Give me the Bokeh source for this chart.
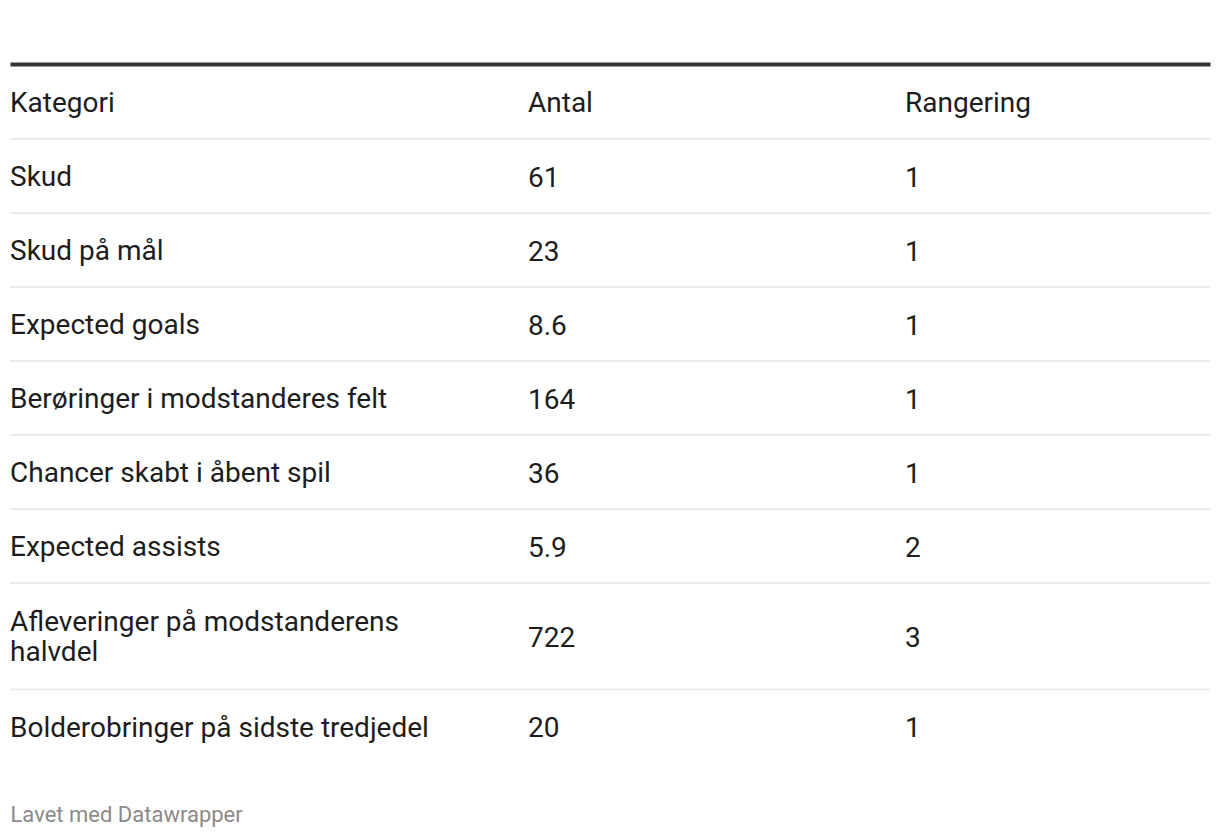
from bokeh.plotting import figure
from bokeh.models import Range1d, ColumnDataSource
from bokeh.core.properties import value
from bokeh.embed import file_html
from bokeh.resources import INLINE

headers = ["Kategori", "Antal", "Rangering"]
kategori = ["Skud", "Skud på mål", "Expected goals", "Berøringer i modstanderes felt",
            "Chancer skabt i åbent spil", "Expected assists",
            "Afleveringer på modstanderens\nhalvdel", "Bolderobringer på sidste tredjedel"]
antal = ["61", "23", "8.6", "164", "36", "5.9", "722", "20"]
rangering = ["1", "1", "1", "1", "1", "2", "3", "1"]
footer = "Lavet med Datawrapper"

W, H = 1212, 830
FONT = value("Roboto")
col_x = [9.5, 527.5, 904.5]
left, right = 10, 1210

p = figure(width=W, height=H, output_backend="svg", toolbar_location=None,
           x_range=Range1d(0, W), y_range=Range1d(H, 0), min_border=0)
p.axis.visible = False
p.grid.visible = False
p.outline_line_color = None
p.background_fill_color = "white"
p.border_fill_color = "white"

# top thick rule
top_y = 64
p.segment(x0=[left], x1=[right], y0=[top_y], y1=[top_y], line_color="#333333", line_width=4)

# header row
hy = 102
p.text(x=col_x, y=[hy] * 3, text=headers, text_font=FONT, text_font_size="28px",
       text_color="#1d1d1d", text_baseline="middle", text_align="left")

first_line = 138.5
line_ys = [first_line]
cur = first_line
tx, ty, tt = [], [], []
for i, k in enumerate(kategori):
    nlines = k.count("\n") + 1
    h = 74 + (nlines - 1) * 32.5
    cy = cur + h / 2 + 0.5
    tx += col_x
    ty += [cy] * 3
    tt += [k, antal[i], rangering[i]]
    cur = cur + h
    if i < len(kategori) - 1:
        line_ys.append(cur)

p.segment(x0=[left] * len(line_ys), x1=[right] * len(line_ys), y0=line_ys, y1=line_ys,
          line_color="#ececec", line_width=2)

src = ColumnDataSource(dict(x=tx, y=ty, t=tt))
p.text(x="x", y="y", text="t", source=src, text_font=FONT, text_font_size="28px",
       text_color="#1d1d1d", text_baseline="middle", text_align="left",
       text_line_height=0.92)

p.text(x=[left], y=[814], text=[footer], text_font=FONT, text_font_size="22px",
       text_color="#8a8a8a", text_baseline="middle", text_align="left")

open("out.html", "w").write(file_html(p, INLINE))
